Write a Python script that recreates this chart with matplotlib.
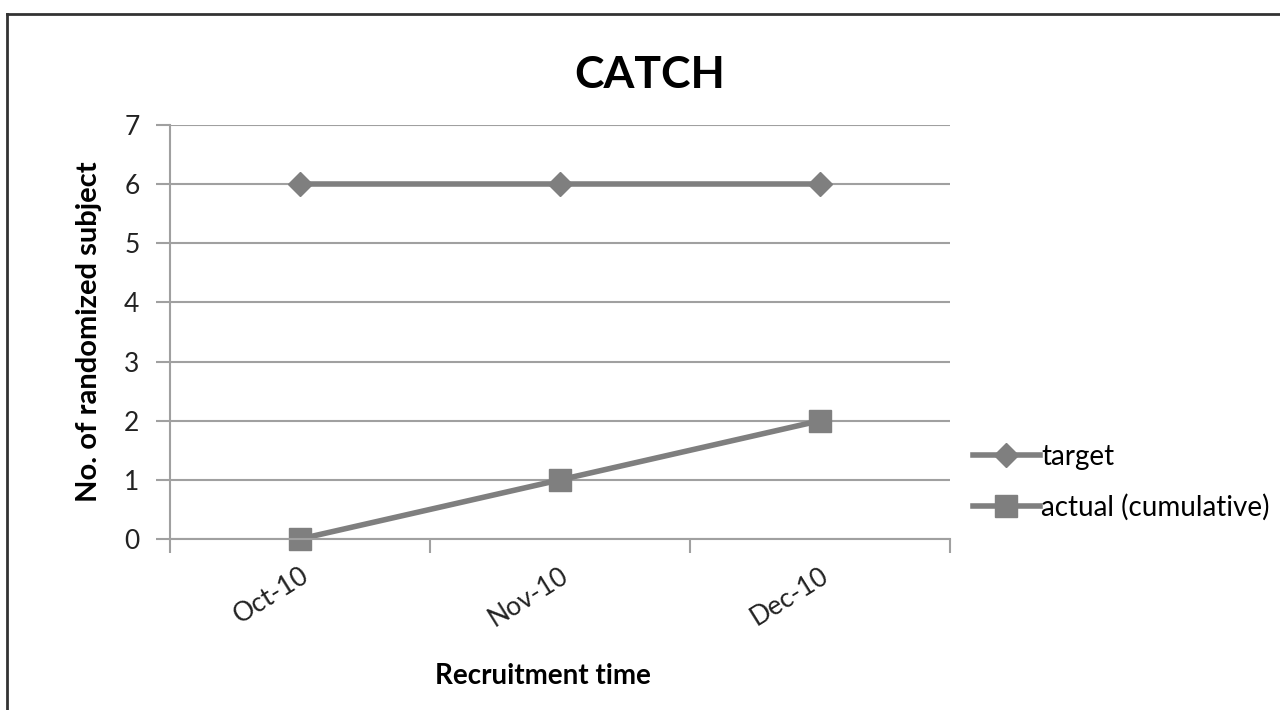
import matplotlib.pyplot as plt
import numpy as np
from matplotlib.lines import Line2D

plt.rcParams['font.family'] = ['Lato', 'DejaVu Sans']

months = ['Oct-10', 'Nov-10', 'Dec-10']
target = [6, 6, 6]
actual = [0, 1, 2]

grey = '#7f7f7f'
axis_grey = '#a0a0a0'

fig = plt.figure(figsize=(12.8, 7.1), dpi=100)
ax = fig.add_axes([170/1280, 1 - 539/710, 780/1280, 414/710])

x = np.arange(len(months)) + 0.5
ax.plot(x, target, '-D', color=grey, lw=4, markersize=12, label='target', clip_on=False)
ax.plot(x, actual, '-s', color=grey, lw=4, markersize=16, label='actual (cumulative)',
        clip_on=False)

ax.set_xlim(0, len(months))
ax.set_ylim(0, 7)
ax.set_yticks(range(8))
ax.grid(axis='y', color=axis_grey, lw=1.5)
ax.set_axisbelow(True)

# category boundaries get the tick marks, labels sit in the middle
ax.set_xticks(range(len(months) + 1))
ax.set_xticklabels([])
ax.set_xticks(x, minor=True)
ax.set_xticklabels(months, minor=True, rotation=32, ha='right',
                   rotation_mode='anchor', fontsize=19, color='#222222')
ax.tick_params(axis='x', which='minor', length=0, pad=17)
ax.tick_params(axis='x', which='major', length=10, width=1.5, color=axis_grey, direction='out')
ax.tick_params(axis='y', length=10, width=1.5, color=axis_grey, labelsize=19,
               labelcolor='#222222', pad=12)

for s in ['top', 'right']:
    ax.spines[s].set_visible(False)
for s in ['left', 'bottom']:
    ax.spines[s].set_color(axis_grey)
    ax.spines[s].set_linewidth(1.5)

fig.text(650/1280, 1 - 75/710, 'CATCH', fontsize=32, fontweight='bold',
         ha='center', va='center')
ax.set_ylabel('No. of randomized subject', fontsize=21, fontweight='bold', labelpad=16)
ax.set_xlabel('Recruitment time', fontsize=20, fontweight='bold')
ax.xaxis.set_label_coords((543 - 170) / 780, -0.30)

fig.legend(loc='center left', bbox_to_anchor=(962/1280, 1 - 482/710), frameon=False,
           fontsize=20, handlelength=2.4, handletextpad=0.05, labelspacing=0.85,
           borderaxespad=0)

# outer frame (left and top edges)
fig.add_artist(Line2D([7/1280, 7/1280], [0, 1 - 14/710], color='#333333', lw=2,
                      transform=fig.transFigure))
fig.add_artist(Line2D([7/1280, 1], [1 - 14/710, 1 - 14/710], color='#333333', lw=2,
                      transform=fig.transFigure))

fig.savefig('out.png', dpi=100)
